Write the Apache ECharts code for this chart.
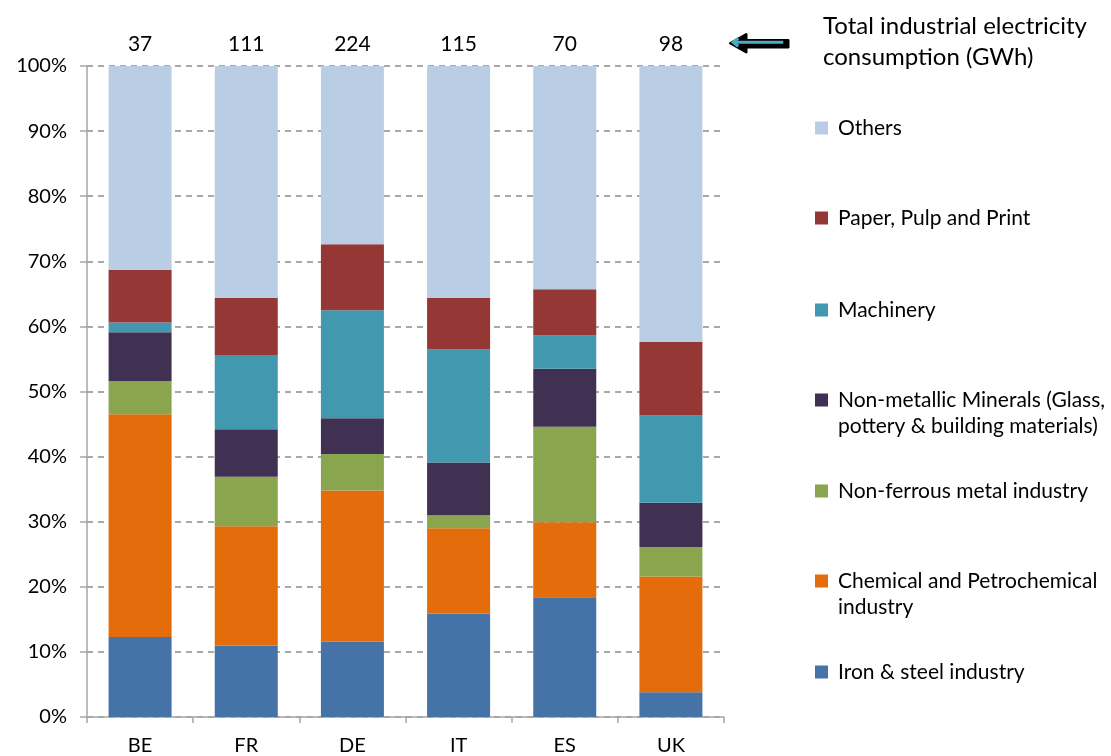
<!DOCTYPE html>
<html>
<head>
<meta charset="utf-8">
<script src="https://cdn.jsdelivr.net/npm/echarts@6/dist/echarts.min.js"></script>
<style>
html,body{margin:0;padding:0;background:#fff;}
#chart{width:1111px;height:756px;}
</style>
</head>
<body>
<div id="chart"></div>
<script>
// ---- data ----
var countries = ['BE', 'FR', 'DE', 'IT', 'ES', 'UK'];
var totals = [37, 111, 224, 115, 70, 98]; // GWh
var yTicks = [0, 10, 20, 30, 40, 50, 60, 70, 80, 90, 100];

var seriesNames = [
  'Iron & steel industry',
  'Chemical and Petrochemical industry',
  'Non-ferrous metal industry',
  'Non-metallic Minerals (Glass, pottery & building materials)',
  'Machinery',
  'Paper, Pulp and Print',
  'Others'
];
var ironSteel     = [12.3, 11.0, 11.6, 15.9, 18.4, 3.8];
var chemical      = [34.2, 18.3, 23.2, 13.1, 11.5, 17.8];
var nonFerrous    = [5.1, 7.6, 5.6, 2.0, 14.7, 4.5];
var nonMetallic   = [7.5, 7.3, 5.5, 8.1, 8.9, 6.8];
var machinery     = [1.5, 11.4, 16.6, 17.4, 5.1, 13.4];
var paper         = [8.1, 8.8, 10.1, 7.9, 7.1, 11.3];
var others        = [31.3, 35.6, 27.4, 35.6, 34.3, 42.4];

var legendTitle = 'Total industrial electricity\nconsumption (GWh)';

// ---- styling ----
var FONT = 'Lato, "Open Sans", sans-serif';
var colors = ['#4572A7', '#E46C0A', '#89A54E', '#403152', '#4198AF', '#953735', '#B9CDE5'];
var values = [ironSteel, chemical, nonFerrous, nonMetallic, machinery, paper, others];

// legend first lines (second lines drawn as text below)
var legendFirst = {
  'Non-metallic Minerals (Glass, pottery & building materials)': 'Non-metallic Minerals (Glass,',
  'Chemical and Petrochemical industry': 'Chemical and Petrochemical'
};
var legendSecond = [
  {text: 'pottery & building materials)', y: 428},
  {text: 'industry', y: 609}
];
var legendY = [672, 581, 491, 400, 310, 218, 128];

var series = seriesNames.map(function (name, i) {
  var s = {
    name: name,
    type: 'bar',
    stack: 'total',
    barWidth: 63,
    data: values[i],
    itemStyle: {color: colors[i]},
    emphasis: {disabled: true}
  };
  if (i === seriesNames.length - 1) {
    s.label = {
      show: true,
      position: 'top',
      distance: 11,
      fontFamily: FONT,
      fontSize: 21,
      color: '#000',
      formatter: function (p) { return String(totals[p.dataIndex]); }
    };
  }
  return s;
});

var legends = seriesNames.map(function (name, i) {
  return {
    data: [name],
    left: 815,
    top: legendY[i] - 12,
    padding: 0,
    itemWidth: 13,
    itemHeight: 13,
    icon: 'rect',
    selectedMode: false,
    textStyle: {fontFamily: FONT, fontSize: 21, color: '#000', padding: [0, 0, 0, 5], lineHeight: 24},
    formatter: function (n) { return legendFirst[n] || n; }
  };
});

var graphics = legendSecond.map(function (g) {
  return {
    type: 'text', left: 838, top: g.y - 12,
    style: {text: g.text, font: '21px ' + FONT, fill: '#000'}
  };
});
// arrow pointing at the totals row
graphics.push({
  type: 'group', left: 729, top: 33,
  children: [
    {type: 'polygon', shape: {points: [[2, 10], [18, 1], [18, 7], [60, 7], [60, 14], [18, 14], [18, 19]]},
     style: {fill: '#000', stroke: '#000', lineWidth: 2.5, lineJoin: 'round'}},
    {type: 'polyline', shape: {points: [[10, 5], [5, 9], [10, 13]]}, style: {stroke: '#4AACC5', lineWidth: 3, fill: 'none'}},
    {type: 'line', shape: {x1: 6, y1: 9, x2: 55, y2: 9}, style: {stroke: '#4AACC5', lineWidth: 3}}
  ]
});

var chart = echarts.init(document.getElementById('chart'), null, {renderer: 'canvas'});
chart.setOption({
  animation: false,
  backgroundColor: '#fff',
  title: {
    text: legendTitle,
    left: 823, top: 11,
    padding: 0,
    textStyle: {fontFamily: FONT, fontSize: 24, fontWeight: 'normal', color: '#000', lineHeight: 31}
  },
  legend: legends,
  graphic: graphics,
  grid: {left: 87, right: 387, top: 66, bottom: 39, containLabel: false},
  xAxis: {
    type: 'category',
    data: countries,
    axisLine: {lineStyle: {color: '#A6A6A6', width: 1.5}},
    axisTick: {show: true, length: 6, lineStyle: {color: '#A6A6A6', width: 1.5}},
    axisLabel: {fontFamily: FONT, fontSize: 20, color: '#000', margin: 19}
  },
  yAxis: {
    type: 'value',
    min: yTicks[0], max: yTicks[yTicks.length - 1], interval: 10,
    axisLine: {show: true, lineStyle: {color: '#A6A6A6', width: 1.5}},
    axisTick: {show: true, length: 7, lineStyle: {color: '#A6A6A6', width: 1.5}},
    axisLabel: {fontFamily: FONT, fontSize: 20, color: '#000', margin: 20, formatter: '{value}%'},
    splitLine: {show: true, lineStyle: {color: '#8C8C8C', type: [6, 5], width: 1.5}}
  },
  series: series
});
</script>
</body>
</html>
